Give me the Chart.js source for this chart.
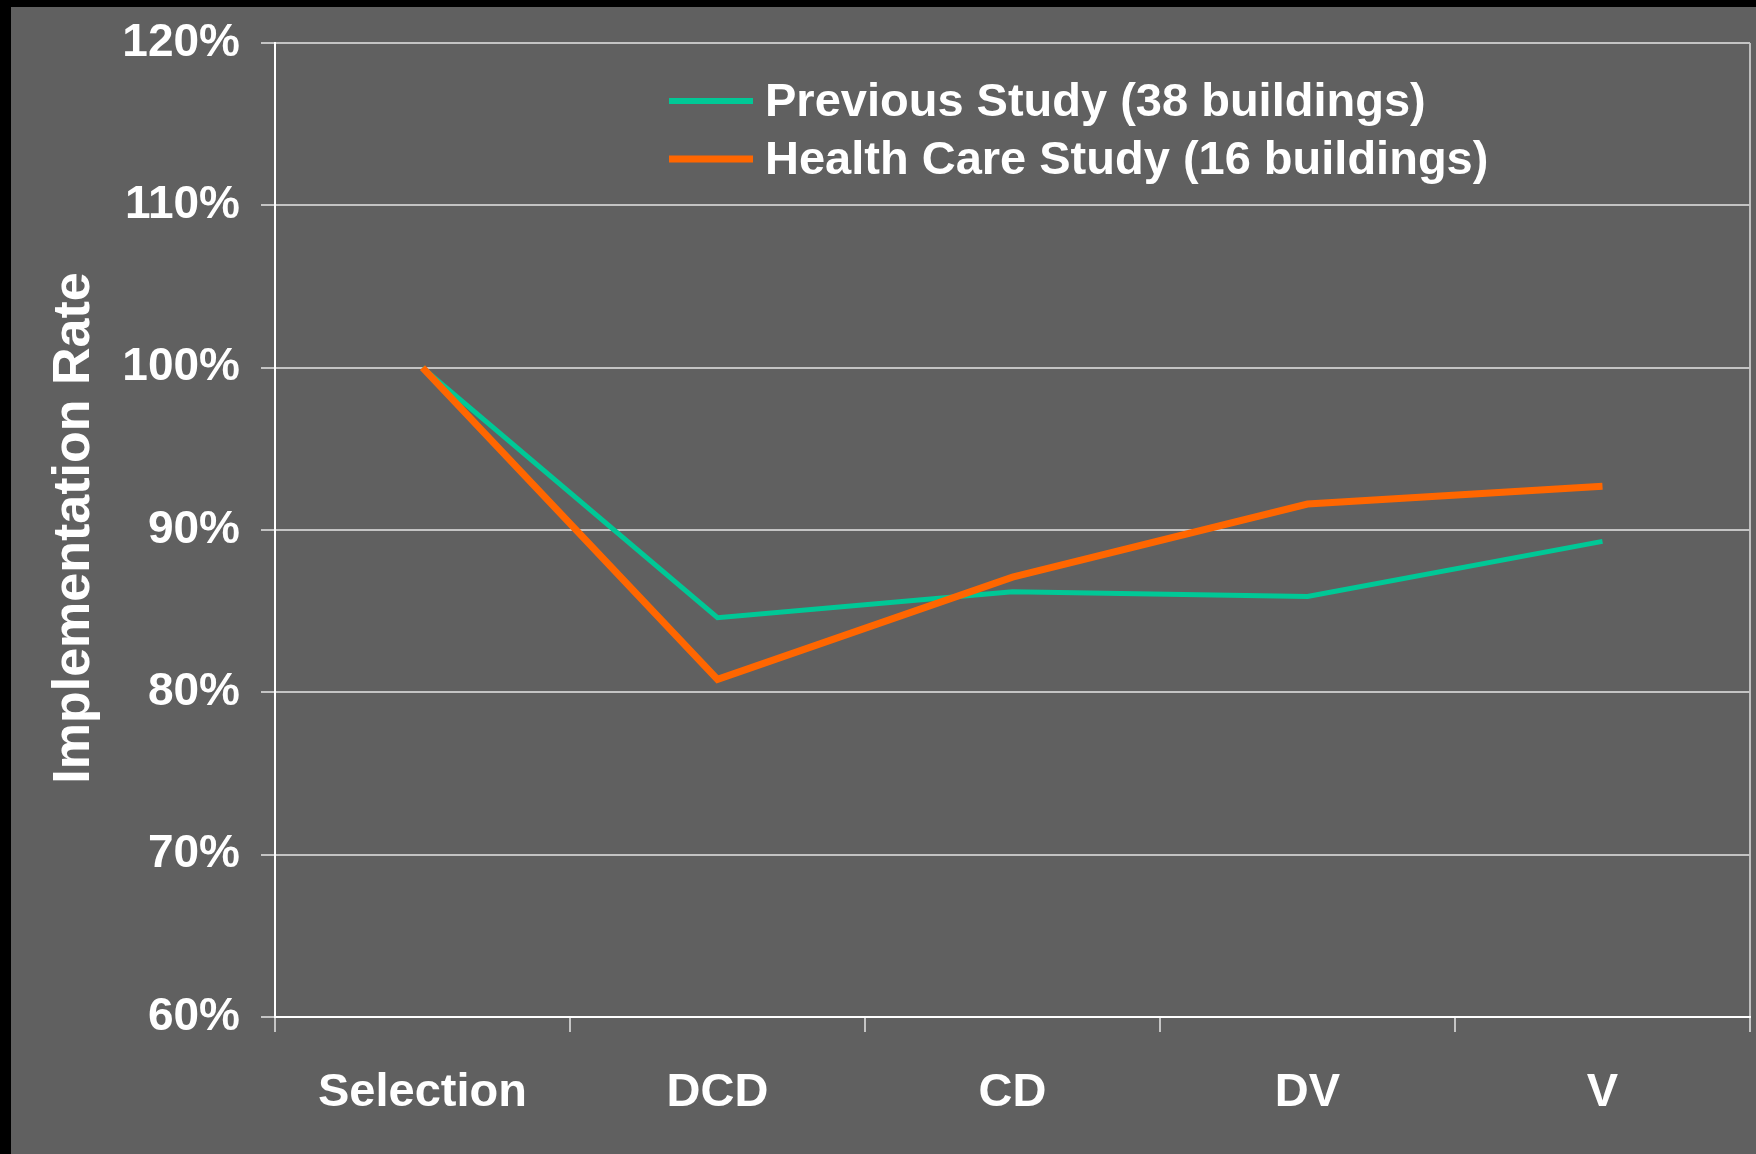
<!DOCTYPE html>
<html>
<head>
<meta charset="utf-8">
<script src="https://cdn.jsdelivr.net/npm/chart.js@4/dist/chart.umd.min.js"></script>
<style>
    html, body { margin: 0; padding: 0; background: #000; width: 1756px; height: 1154px; overflow: hidden; }
    #box { position: absolute; left: 11px; top: 7px; width: 1745px; height: 1147px; background: #606060; }
</style>
</head>
<body>
<div id="box"><canvas id="rateChart"></canvas></div>
<script>
// dados
const fases = ['Selection', 'DCD', 'CD', 'DV', 'V'];
const previousStudy = [100, 84.6, 86.2, 85.9, 89.3];
const healthCare = [100, 80.8, 87.1, 91.6, 92.7];
const yTicks = [60, 70, 80, 90, 100, 110, 120];
const serieNomes = ['Previous Study (38 buildings)', 'Health Care Study (16 buildings)'];
const yTitulo = 'Implementation Rate';

const FONTE = "'Liberation Sans', Arial, sans-serif";

// legenda e titulo do eixo desenhados a mao (ficam dentro do grafico)
const extras = {
    id: 'extras',
    afterDraw(chart) {
        const ctx = chart.ctx;
        const area = chart.chartArea;
        ctx.save();
        ctx.font = 'bold 47px ' + FONTE;
        ctx.textBaseline = 'middle';
        ctx.textAlign = 'left';
        chart.data.datasets.forEach((ds, i) => {
            const y = area.top + 58 + i * 58;
            ctx.strokeStyle = ds.borderColor;
            ctx.lineWidth = i === 0 ? 6 : 7;
            ctx.beginPath();
            ctx.moveTo(area.left + 394, y);
            ctx.lineTo(area.left + 478, y);
            ctx.stroke();
            ctx.fillStyle = '#ffffff';
            ctx.fillText(ds.label, area.left + 490, y + 2);
        });
        // titulo do eixo y
        ctx.translate(78, 521);
        ctx.rotate(-Math.PI / 2);
        ctx.textAlign = 'center';
        ctx.textBaseline = 'alphabetic';
        ctx.font = 'bold 52px ' + FONTE;
        ctx.fillText(yTitulo, 0, 0);
        ctx.restore();
    }
};

const ctx = document.getElementById('rateChart').getContext('2d');
new Chart(ctx, {
    type: 'line',
    data: {
        labels: fases,
        datasets: [
            { label: serieNomes[0], data: previousStudy, borderColor: '#00c896', borderWidth: 5, order: 1 },
            { label: serieNomes[1], data: healthCare, borderColor: '#ff6600', borderWidth: 7, order: 0 }
        ]
    },
    options: {
        responsive: true,
        maintainAspectRatio: false,
        animation: false,
        layout: { padding: { top: 36, right: 6, left: 0, bottom: 0 } },
        elements: {
            point: { radius: 0, hoverRadius: 0 },
            line: { tension: 0, borderJoinStyle: 'miter', borderCapStyle: 'butt', fill: false }
        },
        plugins: { legend: { display: false }, tooltip: { enabled: false } },
        scales: {
            x: {
                offset: true,
                grid: {
                    offset: true,
                    drawOnChartArea: true,
                    // so a linha da borda direita aparece dentro da area
                    color: c => c.index === undefined ? '#bdbdbd' : 'transparent',
                    lineWidth: 2,
                    tickLength: 15,
                    tickColor: '#c4c4c4',
                    tickWidth: 2
                },
                border: { color: '#ffffff', width: 2 },
                ticks: { color: '#ffffff', font: { family: FONTE, size: 47, weight: 'bold' }, padding: 33, maxRotation: 0 },
                afterFit(scale) { scale.height = 137; }
            },
            y: {
                min: yTicks[0],
                max: yTicks[yTicks.length - 1],
                afterBuildTicks(scale) { scale.ticks = yTicks.map(v => ({ value: v })); },
                grid: { color: '#c4c4c4', lineWidth: 2, tickLength: 14, tickColor: '#c4c4c4', tickWidth: 2 },
                border: { color: '#ffffff', width: 2 },
                ticks: {
                    color: '#ffffff',
                    font: { family: FONTE, size: 46, weight: 'bold' },
                    padding: 21,
                    callback: v => v + '%'
                },
                afterFit(scale) {
                    scale.width = 264;
                    scale.paddingTop = 0; // senao o topo desce
                }
            }
        }
    },
    plugins: [extras]
});
</script>
</body>
</html>
